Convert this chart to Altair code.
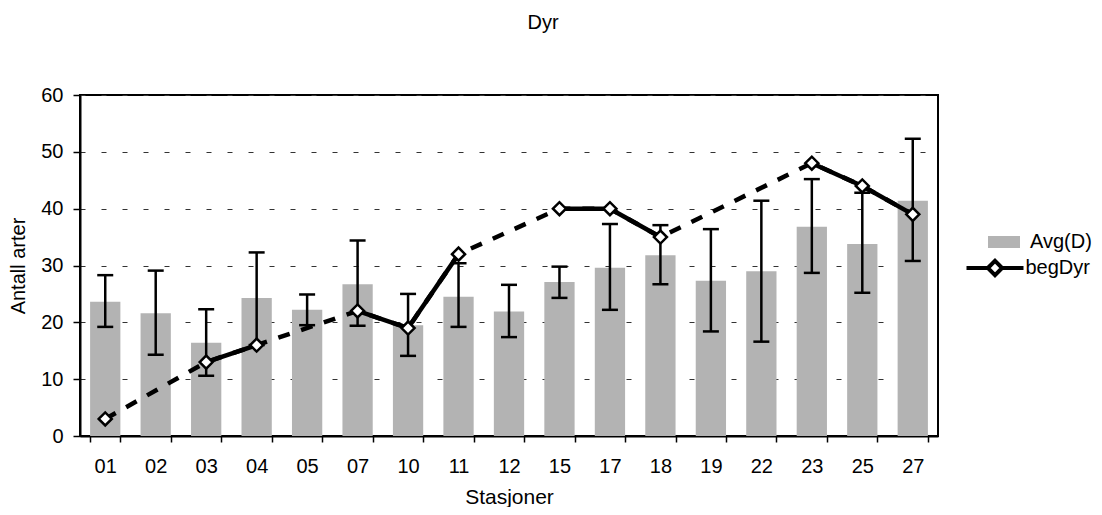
import altair as alt
import pandas as pd

stations = ["01", "02", "03", "04", "05", "07", "10", "11", "12", "15", "17", "18", "19", "22", "23", "25", "27"]
avg_d = [23.6, 21.6, 16.4, 24.3, 22.2, 26.7, 19.5, 24.5, 21.9, 27.1, 29.6, 31.8, 27.3, 29.0, 36.8, 33.8, 41.4]
err_hi = [28.3, 29.1, 22.3, 32.3, 24.9, 34.4, 25.0, 30.4, 26.6, 29.8, 37.3, 37.1, 36.4, 41.4, 45.2, 42.8, 52.3]
err_lo = [19.2, 14.3, 10.6, 16.0, 19.5, 19.4, 14.1, 19.2, 17.4, 24.3, 22.2, 26.7, 18.4, 16.6, 28.7, 25.2, 30.8]
beg_dyr = [3, None, 13, 16, None, 22, 19, 32, None, 40, 40, 35, None, None, 48, 44, 39]
y_ticks = [0, 10, 20, 30, 40, 50, 60]
series_names = ["Avg(D)", "begDyr"]

FONT = "Liberation Sans"
FS = 20

bars_df = pd.DataFrame({"station": stations, "avg": avg_d, "lo": err_lo, "hi": err_hi,
                        "series": series_names[0]})
pts_df = pd.DataFrame([{"station": s, "val": v} for s, v in zip(stations, beg_dyr) if v is not None])

seg_rows = []
for i in range(len(stations) - 1):
    if beg_dyr[i] is not None and beg_dyr[i + 1] is not None:
        seg_rows.append({"station": stations[i], "val": beg_dyr[i], "seg": i, "series": series_names[1]})
        seg_rows.append({"station": stations[i + 1], "val": beg_dyr[i + 1], "seg": i, "series": series_names[1]})
seg_df = pd.DataFrame(seg_rows)

xscale = alt.Scale(domain=stations, paddingInner=0.4, paddingOuter=0.2)
yscale = alt.Scale(domain=[0, 60])

x_axis = alt.Axis(labelAngle=0, tickBand="extent", tickSize=6, tickWidth=1.5,
                  labelPadding=14, titlePadding=10, titleFontSize=21, domainWidth=2, grid=False)
y_axis = alt.Axis(values=y_ticks, grid=True, gridDash=[5, 16], gridColor="#333333",
                  gridWidth=1, tickSize=7, tickWidth=1.5, labelPadding=10, titlePadding=12, domainWidth=2)

X = alt.X("station:N", sort=stations, scale=xscale, axis=x_axis, title="Stasjoner")


def Y(field):
    return alt.Y(field, scale=yscale, axis=y_axis, title="Antall arter")


bars = alt.Chart(bars_df).mark_bar().encode(
    x=X,
    y=Y("avg:Q"),
    color=alt.Color("series:N", scale=alt.Scale(domain=[series_names[0]], range=["#b3b3b3"]),
                    legend=alt.Legend(title=None, orient="none", legendX=908, legendY=131, padding=0,
                                      symbolType="M-1,-0.375H1V0.375H-1Z", symbolSize=1024,
                                      symbolFillColor="#b3b3b3", symbolStrokeWidth=0, symbolOpacity=1,
                                      labelOffset=10, labelFontSize=FS, labelFont=FONT, labelColor="black")),
)

err_rule = alt.Chart(bars_df).mark_rule(color="black", strokeWidth=2.5).encode(
    x=X, y=Y("lo:Q"), y2="hi:Q"
)
cap_hi = alt.Chart(bars_df).mark_tick(color="black", thickness=2.5, size=16, opacity=1).encode(
    x=X, y=Y("hi:Q")
)
cap_lo = alt.Chart(bars_df).mark_tick(color="black", thickness=2.5, size=16, opacity=1).encode(
    x=X, y=Y("lo:Q")
)

dashed = alt.Chart(pts_df).mark_line(color="black", strokeWidth=4.5, strokeDash=[12, 12]).encode(
    x=X, y=Y("val:Q")
)

solid = alt.Chart(seg_df).mark_line(strokeWidth=4.5).encode(
    x=X, y=Y("val:Q"), detail="seg:N",
    stroke=alt.Stroke("series:N", scale=alt.Scale(domain=[series_names[1]], range=["black"]),
                      legend=alt.Legend(title=None, orient="none", legendX=884.5, legendY=142.5, padding=0,
                                        symbolType="M-1,0H-0.25M0.25,0H1M-0.25,0L0,-0.25L0.25,0L0,0.25Z",
                                        symbolSize=3249, symbolFillColor="white", symbolStrokeColor="black",
                                        symbolStrokeWidth=4, symbolOpacity=1,
                                        labelOffset=0, labelFontSize=FS, labelFont=FONT, labelColor="black")),
)

points = alt.Chart(pts_df).mark_point(shape="diamond", size=170, filled=True, fill="white",
                                      stroke="black", strokeWidth=2.5, opacity=1).encode(
    x=X, y=Y("val:Q")
)

chart = alt.layer(bars, err_rule, cap_hi, cap_lo, dashed, solid, points).resolve_scale(
    color="independent", stroke="independent"
).properties(
    width=858, height=341,
    title=alt.TitleParams("Dyr", anchor="middle", frame="group", dx=34, offset=52,
                          fontSize=FS, fontWeight="normal", font=FONT, color="black"),
    autosize=alt.AutoSizeParams(type="none"),
    padding={"left": 72, "top": 87, "right": 156, "bottom": 71},
).configure_view(
    stroke="black", strokeWidth=2
).configure_axis(
    labelFont=FONT, titleFont=FONT, labelFontSize=FS, titleFontSize=FS, titleFontWeight="normal",
    labelColor="black", titleColor="black", domainColor="black", tickColor="black"
)

chart.save("out.html", embed_options={"renderer": "svg", "actions": False})
